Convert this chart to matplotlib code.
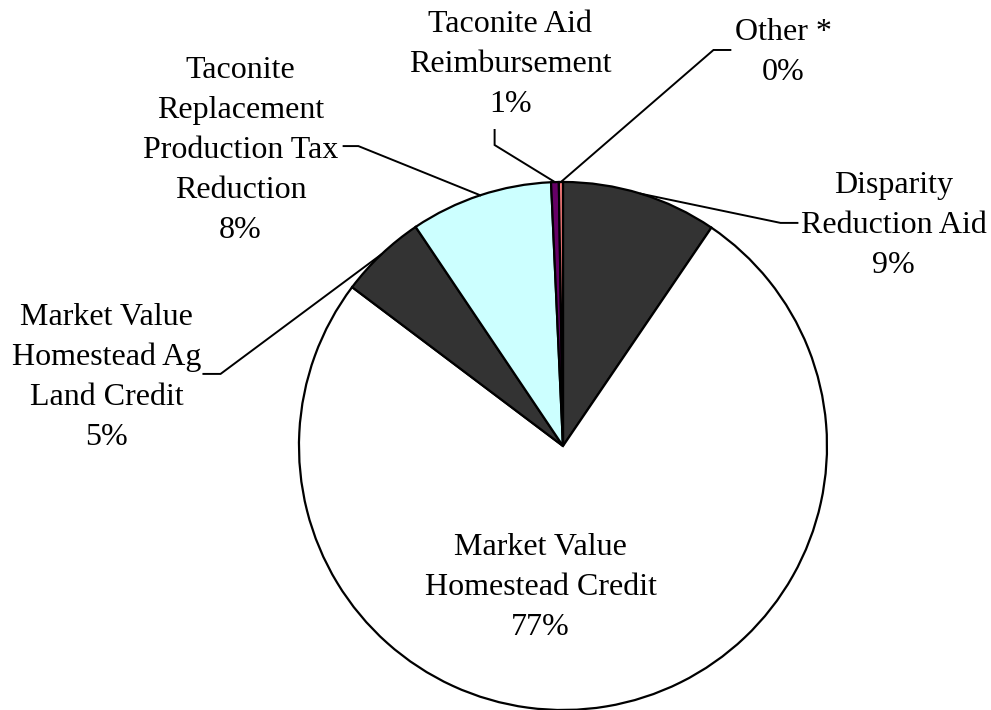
import matplotlib
matplotlib.use('Agg')
import matplotlib.pyplot as plt
import numpy as np

plt.rcParams['font.family'] = ['Liberation Serif', 'DejaVu Serif']

# slice order: clockwise from 12 o'clock
names = ['Disparity\nReduction Aid',
         'Market Value\nHomestead Credit',
         'Market Value\nHomestead Ag\nLand Credit',
         'Taconite\nReplacement\nProduction Tax\nReduction',
         'Taconite Aid\nReimbursement',
         'Other *']
shares = [9.5, 75.75, 5.3, 8.7, 0.47, 0.25]
pct_labels = ['9%', '77%', '5%', '8%', '1%', '0%']
colors = ['#333333', '#FFFFFF', '#333333', '#CCFFFF', '#660066', '#FF8080']

# label layout (data units, pie radius = 1): first-line baseline position
label_pos = [(1.252, 0.958), (-0.085, -0.413), (-1.729, 0.458),
             (-1.222, 1.394), (-0.199, 1.568), (0.835, 1.538)]
# leader lines: start at text, elbow, then to the slice edge (None = no leader)
leader = [[(0.888, 0.845), (0.824, 0.845)],
          None,
          [(-1.362, 0.273), (-1.297, 0.273)],
          [(-0.831, 1.136), (-0.775, 1.136)],
          [(-0.259, 1.197), (-0.259, 1.140)],
          [(0.634, 1.500), (0.570, 1.500)]]

FS = 23
PITCH = 40.0 / 264.0   # line pitch in data units


def draw_label(ax, x, y, txt):
    lines = txt.split('\n')
    for i, ln in enumerate(lines):
        ax.text(x, y - i * PITCH, ln, ha='center', va='baseline',
                fontsize=FS, color='black')


fig = plt.figure(figsize=(9.91, 7.1), dpi=100)
fig.patch.set_facecolor('white')
ax = fig.add_axes([0.3017, 0.0, 0.5328, 0.7437])

wedges, _ = ax.pie(shares, colors=colors, startangle=90, counterclock=False,
                   radius=1.0,
                   wedgeprops={'edgecolor': 'black', 'linewidth': 1.6})
ax.set_xlim(-1, 1)
ax.set_ylim(-1, 1)
ax.set_aspect('equal')
ax.axis('off')

for i, w in enumerate(wedges):
    x, y = label_pos[i]
    draw_label(ax, x, y, names[i] + '\n' + pct_labels[i])
    if leader[i] is not None:
        mid = np.deg2rad((w.theta1 + w.theta2) / 2.0)
        pts = leader[i] + [(np.cos(mid), np.sin(mid))]
        xs = [p[0] for p in pts]
        ys = [p[1] for p in pts]
        ax.plot(xs, ys, color='black', lw=1.4, clip_on=False,
                solid_joinstyle='miter')

fig.savefig('out.png', dpi=100, facecolor='white')
